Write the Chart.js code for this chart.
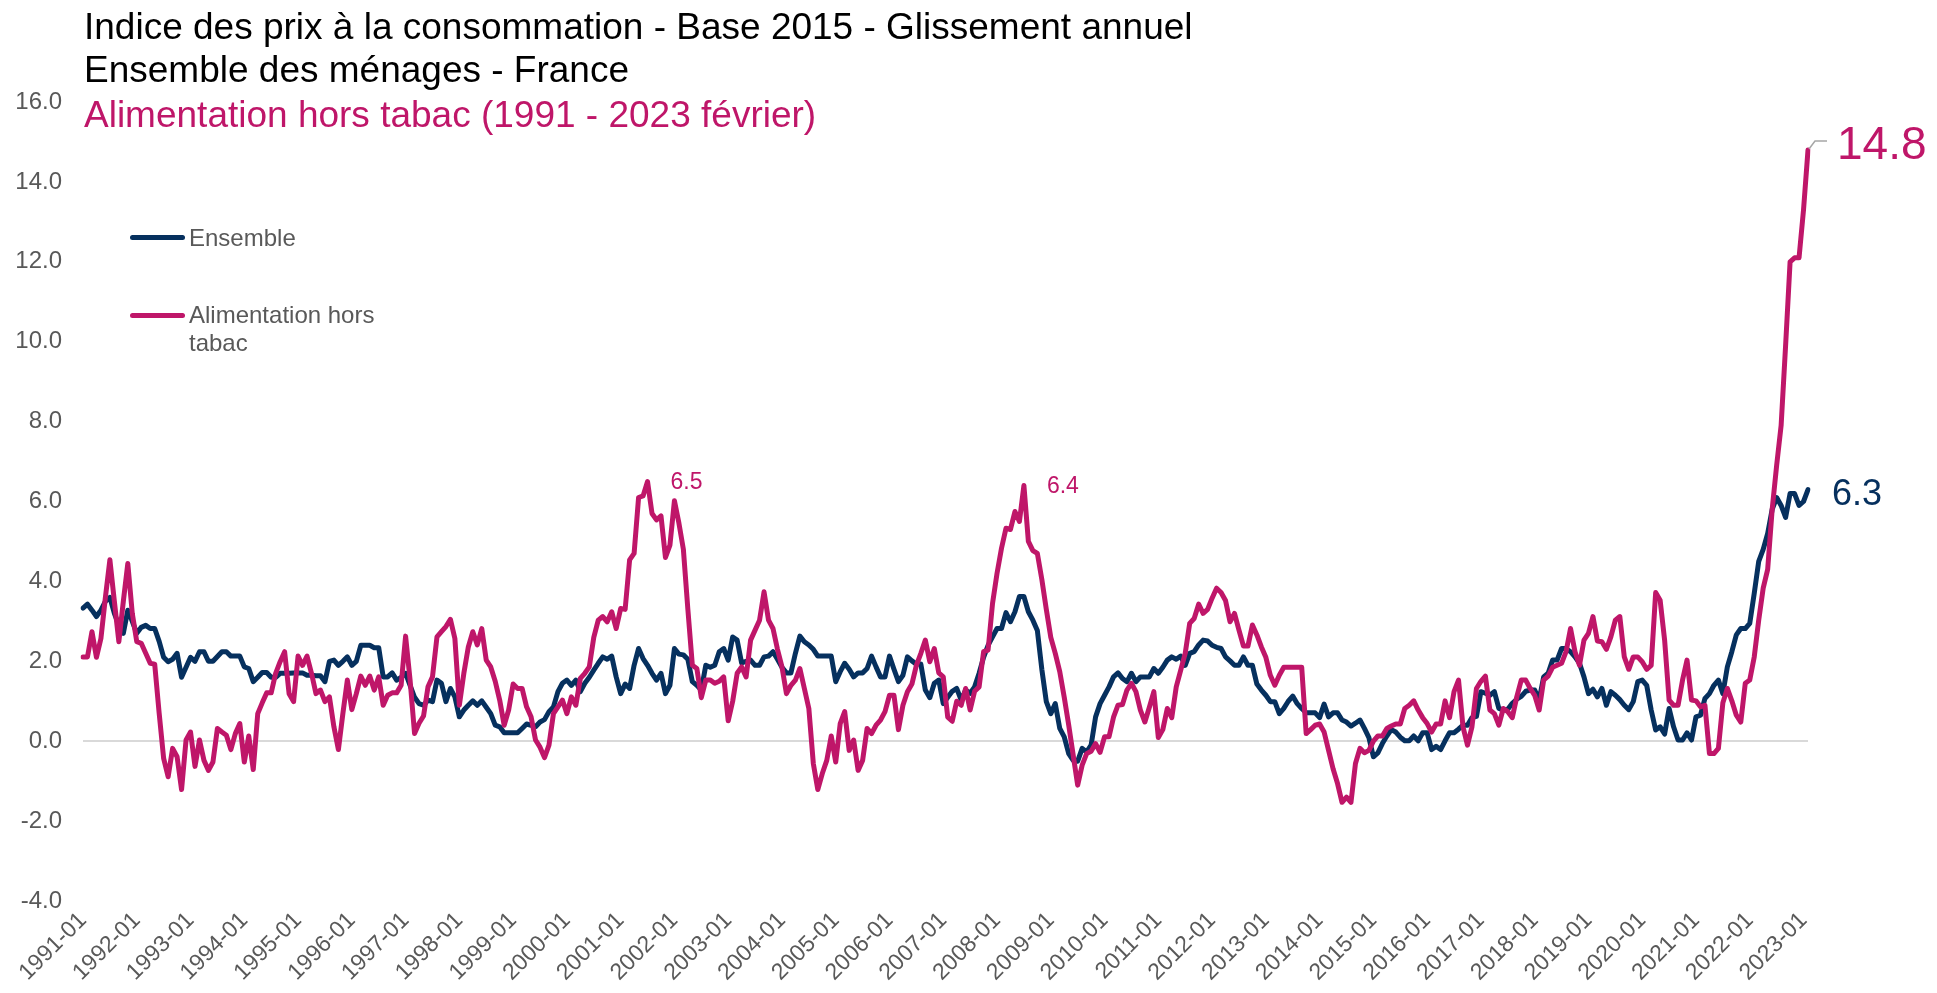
<!DOCTYPE html>
<html>
<head>
<meta charset="utf-8">
<script src="https://cdn.jsdelivr.net/npm/chart.js@4.4.1/dist/chart.umd.min.js"></script>
<style>
  body { margin: 0; background: #fff; font-family: "Liberation Sans", Arial, sans-serif; }
  #wrap { position: relative; width: 1937px; height: 993px; overflow: hidden; }
  canvas { position: absolute; left: 0; top: 0; }
  .title { position: absolute; left: 84px; font-size: 37px; line-height: 44px; white-space: nowrap; color: #000; }
  .legLine { position: absolute; left: 130px; width: 55px; height: 5px; border-radius: 3px; }
  .legText { position: absolute; left: 189px; font-size: 24px; line-height: 28px; color: #595959; white-space: nowrap; }
</style>
</head>
<body>
<div id="wrap">
  <canvas id="chart" width="1937" height="993"></canvas>
  <div class="title" style="top:5px">Indice des prix à la consommation - Base 2015 - Glissement annuel</div>
  <div class="title" style="top:48px">Ensemble des ménages - France</div>
  <div class="title" style="top:93px;color:#BF1669">Alimentation hors tabac (1991 - 2023 février)</div>

  <div class="legLine" style="top:235px;background:#06305E"></div>
  <div class="legText" style="top:224px">Ensemble</div>
  <div class="legLine" style="top:313px;background:#BF1669"></div>
  <div class="legText" style="top:301px">Alimentation hors<br>tabac</div>
</div>
<script>
const FONT = "'Liberation Sans', Arial, sans-serif"
const NAVY = "#06305E"
const MAGENTA = "#BF1669"
const GREY = "#595959"

// monthly categories 1991-01 .. 2023-02
const months = []
for (let y = 1991; y <= 2023; y++) {
  for (let m = 1; m <= 12; m++) {
    if (y === 2023 && m > 2) break
    months.push(y + "-" + String(m).padStart(2, "0"))
  }
}

// Ensemble, one row per year
const ensemble = [
  3.33, 3.43, 3.28, 3.12, 3.28, 3.5, 3.6, 3.2, 2.9, 2.7, 3.28, 3.0,
  2.7, 2.85, 2.9, 2.82, 2.82, 2.5, 2.1, 1.99, 2.05, 2.2, 1.6, 1.85,
  2.1, 2.0, 2.24, 2.24, 2.0, 2.0, 2.12, 2.24, 2.24, 2.13, 2.13, 2.13,
  1.86, 1.82, 1.49, 1.6, 1.72, 1.72, 1.6, 1.6, 1.7, 1.7, 1.7, 1.71,
  1.71, 1.71, 1.65, 1.65, 1.64, 1.64, 1.49, 2.0, 2.03, 1.9, 2.0, 2.11,
  1.9, 2.0, 2.4, 2.4, 2.4, 2.34, 2.34, 1.61, 1.61, 1.71, 1.53, 1.6,
  1.7, 1.4, 1.1, 0.94, 0.9, 1.03, 0.99, 1.53, 1.45, 0.99, 1.32, 1.11,
  0.61, 0.78, 0.9, 1.01, 0.9, 1.01, 0.85, 0.69, 0.4, 0.36, 0.21, 0.21,
  0.21, 0.21, 0.32, 0.43, 0.4, 0.36, 0.48, 0.54, 0.74, 0.86, 1.24, 1.45,
  1.53, 1.4, 1.53, 1.24, 1.45, 1.6, 1.78, 1.95, 2.11, 2.05, 2.13, 1.61,
  1.19, 1.43, 1.32, 1.9, 2.32, 2.07, 1.9, 1.7, 1.53, 1.7, 1.19, 1.4,
  2.32, 2.18, 2.16, 2.05, 1.49, 1.4, 1.28, 1.9, 1.85, 1.9, 2.24, 2.32,
  2.03, 2.61, 2.53, 1.96, 2.0, 2.03, 1.9, 1.9, 2.11, 2.13, 2.24, 2.05,
  1.85, 1.71, 1.71, 2.2, 2.63, 2.49, 2.41, 2.3, 2.13, 2.13, 2.13, 2.13,
  1.49, 1.74, 1.95, 1.8, 1.61, 1.71, 1.71, 1.82, 2.13, 1.86, 1.61, 1.61,
  2.13, 1.8, 1.49, 1.65, 2.11, 2.01, 1.93, 1.93, 1.28, 1.09, 1.45, 1.53,
  0.94, 1.1, 1.25, 1.32, 1.03, 1.28, 1.2, 1.36, 1.7, 2.1, 2.4, 2.61,
  2.82, 2.82, 3.22, 2.99, 3.24, 3.62, 3.62, 3.24, 3.03, 2.77, 1.8, 0.99,
  0.69, 0.94, 0.32, 0.11, -0.31, -0.48, -0.5, -0.18, -0.27, -0.1, 0.61, 0.94,
  1.15, 1.36, 1.61, 1.71, 1.57, 1.49, 1.7, 1.49, 1.61, 1.61, 1.61, 1.82,
  1.7, 1.85, 2.03, 2.11, 2.05, 2.13, 1.9, 2.2, 2.24, 2.41, 2.53, 2.51,
  2.4, 2.35, 2.32, 2.11, 2.01, 1.9, 1.9, 2.11, 1.9, 1.9, 1.43, 1.28,
  1.15, 0.99, 0.99, 0.69, 0.82, 1.0, 1.13, 0.94, 0.82, 0.71, 0.71, 0.71,
  0.59, 0.93, 0.61, 0.71, 0.71, 0.53, 0.48, 0.38, 0.45, 0.53, 0.32, 0.09,
  -0.39, -0.29, -0.06, 0.13, 0.29, 0.23, 0.1, 0.01, 0.01, 0.13, 0.01, 0.21,
  0.21, -0.21, -0.13, -0.21, 0.01, 0.21, 0.21, 0.3, 0.4, 0.4, 0.59, 0.62,
  1.24, 1.2, 1.15, 1.24, 0.82, 0.78, 0.8, 0.95, 1.05, 1.12, 1.25, 1.28,
  1.28, 1.03, 1.61, 1.7, 2.03, 2.03, 2.32, 2.32, 2.24, 2.11, 1.95, 1.61,
  1.19, 1.3, 1.11, 1.32, 0.9, 1.24, 1.15, 1.04, 0.9, 0.79, 0.99, 1.49,
  1.53, 1.4, 0.78, 0.28, 0.36, 0.18, 0.82, 0.36, 0.03, 0.03, 0.21, 0.03,
  0.61, 0.65, 1.07, 1.19, 1.4, 1.53, 1.19, 1.86, 2.24, 2.66, 2.82, 2.82,
  2.95, 3.7, 4.5, 4.8, 5.2, 5.8, 6.1, 5.9, 5.6, 6.2, 6.2, 5.9,
  6.0, 6.3
]

// Alimentation hors tabac, one row per year
const alimentation = [
  2.11, 2.11, 2.74, 2.1, 2.57, 3.6, 4.54, 3.5, 2.49, 3.5, 4.45, 3.2,
  2.49, 2.45, 2.2, 1.95, 1.93, 0.7, -0.43, -0.89, -0.18, -0.39, -1.21, 0.03,
  0.23, -0.63, 0.03, -0.48, -0.73, -0.52, 0.32, 0.23, 0.15, -0.21, 0.19, 0.44,
  -0.52, 0.13, -0.71, 0.69, 0.96, 1.21, 1.21, 1.7, 1.99, 2.24, 1.19, 0.99,
  2.13, 1.9, 2.13, 1.7, 1.19, 1.28, 0.99, 1.11, 0.36, -0.21, 0.69, 1.53,
  0.79, 1.19, 1.63, 1.4, 1.63, 1.28, 1.61, 0.9, 1.15, 1.21, 1.21, 1.4,
  2.63, 1.53, 0.19, 0.45, 0.63, 1.36, 1.61, 2.61, 2.74, 2.87, 3.05, 2.57,
  0.9, 1.7, 2.36, 2.74, 2.41, 2.82, 2.03, 1.86, 1.5, 1.03, 0.4, 0.78,
  1.43, 1.32, 1.32, 0.86, 0.61, 0.03, -0.15, -0.41, -0.1, 0.69, 0.86, 1.03,
  0.69, 1.11, 0.9, 1.57, 1.7, 1.86, 2.6, 3.03, 3.12, 2.99, 3.24, 2.82,
  3.32, 3.3, 4.54, 4.7, 6.1, 6.14, 6.5, 5.7, 5.54, 5.64, 4.6, 4.91,
  6.02, 5.46, 4.8, 3.3, 1.9, 1.82, 1.09, 1.53, 1.53, 1.45, 1.5, 1.61,
  0.51, 1.0, 1.7, 1.86, 1.61, 2.53, 2.78, 3.03, 3.74, 3.03, 2.82, 2.3,
  1.86, 1.19, 1.4, 1.53, 1.82, 1.32, 0.82, -0.56, -1.21, -0.81, -0.48, 0.13,
  -0.52, 0.44, 0.74, -0.23, 0.03, -0.73, -0.48, 0.32, 0.19, 0.4, 0.53, 0.74,
  1.15, 1.15, 0.29, 0.9, 1.24, 1.43, 1.9, 2.2, 2.53, 1.99, 2.32, 1.71,
  1.61, 0.6, 0.5, 1.0, 0.9, 1.32, 0.78, 1.25, 1.36, 2.24, 2.28, 3.45,
  4.2, 4.83, 5.33, 5.3, 5.75, 5.5, 6.4, 5.0, 4.77, 4.7, 4.05, 3.3,
  2.6, 2.2, 1.74, 1.1, 0.4, -0.35, -1.1, -0.6, -0.31, -0.25, -0.06, -0.28,
  0.11, 0.11, 0.6, 0.9, 0.92, 1.28, 1.45, 1.24, 0.78, 0.48, 0.85, 1.24,
  0.09, 0.29, 0.82, 0.59, 1.36, 1.78, 2.2, 2.95, 3.07, 3.43, 3.2, 3.3,
  3.58, 3.83, 3.72, 3.52, 2.99, 3.2, 2.78, 2.38, 2.38, 2.91, 2.66, 2.36,
  2.1, 1.65, 1.4, 1.65, 1.85, 1.85, 1.85, 1.85, 1.85, 0.19, 0.29, 0.4,
  0.43, 0.23, -0.23, -0.69, -1.06, -1.53, -1.4, -1.53, -0.56, -0.18, -0.29, -0.23,
  0.0, 0.13, 0.13, 0.32, 0.38, 0.43, 0.43, 0.82, 0.9, 1.01, 0.78, 0.59,
  0.44, 0.23, 0.43, 0.43, 1.01, 0.59, 1.24, 1.53, 0.36, -0.1, 0.36, 1.32,
  1.5, 1.63, 0.78, 0.69, 0.4, 0.82, 0.74, 0.59, 1.11, 1.53, 1.53, 1.32,
  1.15, 0.78, 1.53, 1.63, 1.85, 1.9, 1.95, 2.24, 2.82, 2.24, 1.9, 2.53,
  2.7, 3.12, 2.51, 2.49, 2.3, 2.61, 3.03, 3.12, 2.11, 1.8, 2.11, 2.11,
  1.99, 1.8, 1.9, 3.72, 3.53, 2.53, 1.03, 0.9, 0.9, 1.53, 2.03, 1.03,
  1.01, 0.86, 0.9, -0.31, -0.31, -0.18, 0.96, 1.32, 1.01, 0.65, 0.48, 1.45,
  1.53, 2.11, 3.03, 3.83, 4.3, 5.8, 6.9, 7.9, 9.9, 12.0, 12.1, 12.1,
  13.3, 14.8
]

const yTicks = [-4, -2, 0, 2, 4, 6, 8, 10, 12, 14, 16]

// values written next to some points: dataset, month index, font size, offsets
const callouts = [
  { dataset: 1, index: 126, size: 23, dx: 23, dy: 1, color: MAGENTA },
  { dataset: 1, index: 210, size: 23, dx: 23, dy: 1, color: MAGENTA },
  { dataset: 0, index: 385, size: 36, dx: 24, dy: 6, color: NAVY },
  { dataset: 1, index: 385, size: 46, dx: 29, dy: -4, color: MAGENTA, leader: true }
]

const calloutPlugin = {
  id: "callouts",
  afterDatasetsDraw(chart) {
    const ctx = chart.ctx
    ctx.save()
    callouts.forEach(c => {
      const pt = chart.getDatasetMeta(c.dataset).data[c.index]
      const value = chart.data.datasets[c.dataset].data[c.index]
      if (c.leader) {
        ctx.strokeStyle = "#a6a6a6"
        ctx.lineWidth = 1.5
        ctx.beginPath()
        ctx.moveTo(pt.x + 1, pt.y - 1)
        ctx.lineTo(pt.x + 7, pt.y - 9)
        ctx.lineTo(pt.x + 19, pt.y - 9)
        ctx.stroke()
      }
      ctx.fillStyle = c.color
      ctx.font = c.size + "px " + FONT
      ctx.textAlign = "left"
      ctx.textBaseline = "middle"
      ctx.fillText(value.toFixed(1), pt.x + c.dx, pt.y + c.dy)
    })
    ctx.restore()
  }
}

new Chart(document.getElementById("chart"), {
  type: "line",
  data: {
    labels: months,
    datasets: [
      { label: "Ensemble", data: ensemble, borderColor: NAVY, order: 1 },
      { label: "Alimentation hors tabac", data: alimentation, borderColor: MAGENTA, order: 0 }
    ]
  },
  options: {
    responsive: false,
    devicePixelRatio: 1,
    animation: false,
    layout: { padding: { top: 102, right: 129, left: 0, bottom: 0 } },
    elements: {
      line: { borderWidth: 5, tension: 0, borderJoinStyle: "round", borderCapStyle: "round", fill: false },
      point: { radius: 0 }
    },
    plugins: { legend: { display: false }, tooltip: { enabled: false }, title: { display: false } },
    scales: {
      x: {
        grid: { display: false, drawTicks: false },
        border: { display: false },
        ticks: {
          autoSkip: false, minRotation: 45, maxRotation: 45, padding: 6,
          color: GREY, font: { size: 23, family: FONT },
          callback: (v, i) => months[i].endsWith("-01") ? months[i] : null
        },
        afterFit: scale => { scale.height = 92 }
      },
      y: {
        min: -4, max: 16,
        afterBuildTicks: scale => { scale.ticks = yTicks.map(v => ({ value: v })) },
        grid: { drawTicks: false, lineWidth: 2, color: ctx => ctx.tick && ctx.tick.value === 0 ? "#d9d9d9" : "rgba(0,0,0,0)" },
        border: { display: false },
        ticks: { padding: 21, color: GREY, font: { size: 24, family: FONT }, callback: v => Number(v).toFixed(1) },
        afterFit: scale => { scale.width = 83 }
      }
    }
  },
  plugins: [calloutPlugin]
})
</script>
</body>
</html>
